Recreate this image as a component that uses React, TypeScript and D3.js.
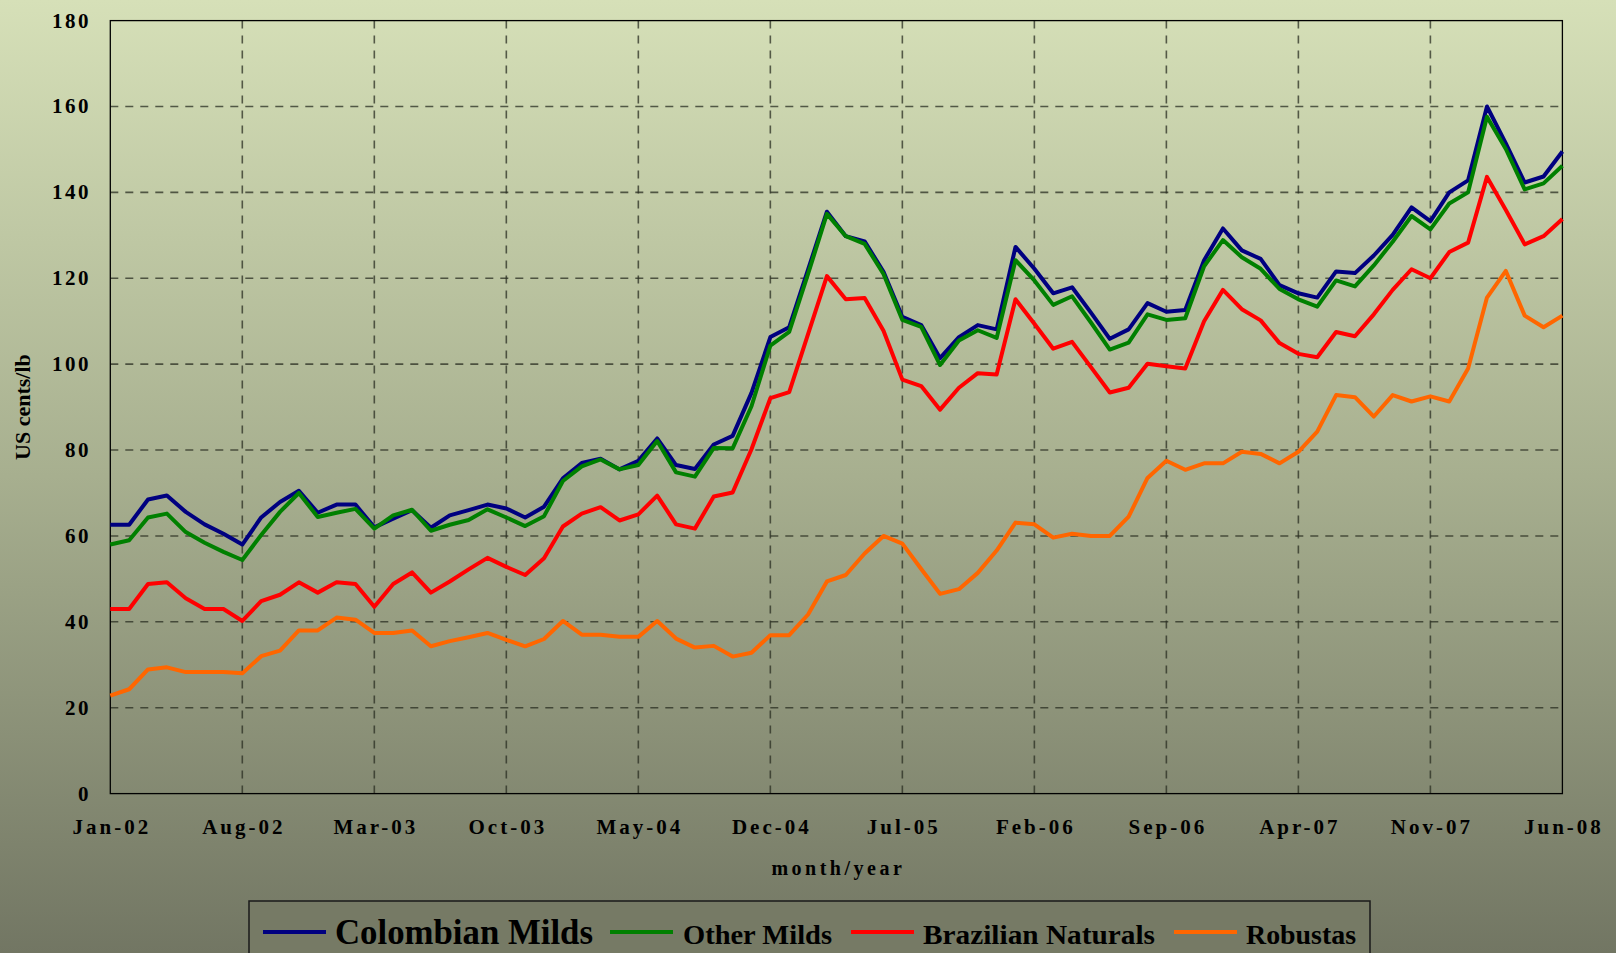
import * as d3 from "d3";

// monthly categories, Jan-02 .. Jun-08
const months = d3.timeMonths(new Date(2002, 0, 1), new Date(2008, 6, 1));
const tickLabels = ["Jan-02", "Aug-02", "Mar-03", "Oct-03", "May-04", "Dec-04", "Jul-05", "Feb-06", "Sep-06", "Apr-07", "Nov-07", "Jun-08"];
const yTicks = [0, 20, 40, 60, 80, 100, 120, 140, 160, 180];

const colombianMilds = [
  62.6, 62.6, 68.5, 69.4, 65.6, 62.7, 60.5, 58.0, 64.3, 67.9, 70.5, 65.4, 67.3, 67.3,
  62.0, 64.0, 66.0, 61.9, 64.8, 66.0, 67.3, 66.4, 64.3, 66.8, 73.4, 77.0, 78.0, 75.5,
  77.5, 82.7, 76.5, 75.6, 81.3, 83.3, 93.3, 106.3, 108.6, 122.0, 135.5, 129.8, 128.6, 121.5,
  111.0, 109.1, 101.4, 106.3, 109.1, 108.1, 127.3, 122.2, 116.5, 117.9, 112.0, 105.9, 108.1, 114.2,
  112.2, 112.6, 124.2, 131.6, 126.5, 124.5, 118.4, 116.5, 115.5, 121.6, 121.2, 125.3, 130.1, 136.5,
  133.3, 140.0, 142.8, 160.0, 151.4, 142.3, 143.7, 149.5,
];
const otherMilds = [
  58.0, 59.0, 64.3, 65.2, 60.9, 58.4, 56.3, 54.4, 60.2, 65.6, 70.0, 64.4, 65.4, 66.3,
  61.7, 64.8, 66.1, 61.2, 62.6, 63.7, 66.2, 64.3, 62.3, 64.6, 72.8, 76.2, 77.8, 75.5,
  76.5, 82.1, 74.8, 73.8, 80.5, 80.4, 90.2, 104.3, 107.5, 121.0, 135.0, 129.8, 128.0, 121.0,
  110.3, 108.7, 99.8, 105.5, 107.9, 106.1, 124.2, 119.5, 113.8, 115.8, 109.7, 103.4, 105.0, 111.6,
  110.3, 110.7, 122.8, 128.9, 124.9, 122.2, 117.5, 115.1, 113.4, 119.5, 118.1, 123.0, 128.5, 134.5,
  131.4, 137.4, 140.0, 157.6, 150.1, 140.7, 142.1, 146.2,
];
const brazilianNaturals = [
  43.0, 43.0, 48.8, 49.2, 45.5, 43.0, 43.0, 40.2, 44.8, 46.3, 49.2, 46.8, 49.2, 48.8,
  43.5, 48.8, 51.5, 46.8, 49.4, 52.2, 54.9, 52.8, 50.9, 54.8, 62.2, 65.2, 66.7, 63.6,
  65.0, 69.4, 62.7, 61.7, 69.2, 70.1, 80.2, 92.1, 93.5, 107.0, 120.5, 115.1, 115.4, 107.8,
  96.4, 94.9, 89.4, 94.5, 97.9, 97.6, 115.1, 109.4, 103.6, 105.2, 99.3, 93.4, 94.5, 100.1,
  99.5, 99.0, 110.0, 117.3, 112.8, 110.2, 104.9, 102.4, 101.6, 107.5, 106.5, 111.6, 117.3, 122.1,
  120.0, 126.1, 128.3, 143.6, 135.9, 127.9, 129.8, 133.8,
];
const robustas = [
  22.8, 24.3, 28.9, 29.4, 28.3, 28.3, 28.3, 28.0, 32.0, 33.3, 38.0, 38.0, 41.0, 40.5,
  37.4, 37.4, 38.0, 34.3, 35.5, 36.4, 37.4, 35.8, 34.3, 36.0, 40.2, 37.0, 37.0, 36.5,
  36.5, 40.2, 36.1, 34.0, 34.4, 31.9, 32.8, 36.9, 36.9, 41.7, 49.4, 50.9, 55.9, 60.0,
  58.2, 52.3, 46.5, 47.6, 51.4, 56.6, 63.1, 62.7, 59.6, 60.5, 60.0, 60.0, 64.5, 73.5,
  77.5, 75.4, 76.9, 76.9, 79.6, 79.1, 76.9, 79.6, 84.3, 92.8, 92.3, 87.8, 92.8, 91.3,
  92.5, 91.3, 99.0, 115.5, 121.7, 111.3, 108.6, 111.3,
];

const series = [
  { name: "Colombian Milds", color: "#000080", values: colombianMilds },
  { name: "Other Milds", color: "#008000", values: otherMilds },
  { name: "Brazilian Naturals", color: "#ff0000", values: brazilianNaturals },
  { name: "Robustas", color: "#ff6600", values: robustas },
];

const W = 1616;
const H = 953;
const plot = { left: 110.3, right: 1562.4, top: 20.6, bottom: 793.6 };
const font = "'Liberation Serif', 'Times New Roman', serif";

// legend layout: sample line start, text start, font size, text width
const legendItems = [
  { x: 263, tx: 335, size: 35, w: 258 },
  { x: 610, tx: 683, size: 28, w: 149 },
  { x: 851, tx: 923, size: 28, w: 232 },
  { x: 1174, tx: 1246, size: 28, w: 110 },
];

export default function App() {
  const x = d3.scaleLinear().domain([0, months.length - 1]).range([plot.left, plot.right]);
  const y = d3.scaleLinear().domain([0, 180]).range([plot.bottom, plot.top]);
  const line = d3
    .line<number>()
    .x((_, i) => x(i))
    .y((d) => y(d));

  const tickIdx = tickLabels.map((_, i) => i * 7);

  return (
    <svg
      width={W}
      height={H}
      style={{ position: "fixed", left: 0, top: 0, display: "block" }}
      fontFamily={font}
      fontWeight="bold"
    >
      <defs>
        <linearGradient id="bg" x1="0" y1="0" x2="0" y2="1">
          <stop offset="0" stopColor="#d6e0b8" />
          <stop offset="0.5" stopColor="#a7af8f" />
          <stop offset="1" stopColor="#727663" />
        </linearGradient>
      </defs>
      <rect width={W} height={H} fill="url(#bg)" />

      {/* grid */}
      <g stroke="#2a2d22" strokeOpacity={0.75} strokeWidth={1.6} strokeDasharray="8,7">
        {yTicks.slice(1, -1).map((t) => (
          <line key={t} x1={plot.left} x2={plot.right} y1={y(t)} y2={y(t)} />
        ))}
        {tickIdx.slice(1, -1).map((i) => (
          <line key={i} x1={x(i)} x2={x(i)} y1={plot.top} y2={plot.bottom} />
        ))}
      </g>
      <rect
        x={plot.left}
        y={plot.top}
        width={plot.right - plot.left}
        height={plot.bottom - plot.top}
        fill="none"
        stroke="#000"
        strokeWidth={1.3}
      />

      {/* series */}
      {series.map((s) => (
        <path
          key={s.name}
          d={line(s.values) ?? ""}
          fill="none"
          stroke={s.color}
          strokeWidth={4}
          strokeLinejoin="round"
        />
      ))}

      {/* y axis */}
      {yTicks.map((t) => (
        <text key={t} x={91} y={y(t) + 7} textAnchor="end" fontSize={21} letterSpacing={2.5} fill="#000">
          {t}
        </text>
      ))}
      <text
        transform={`translate(30,${(plot.top + plot.bottom) / 2}) rotate(-90)`}
        textAnchor="middle"
        fontSize={22}
        fill="#000"
      >
        US cents/lb
      </text>

      {/* x axis */}
      {tickIdx.map((i, k) => (
        <text key={i} x={x(i) + 1.5} y={834} textAnchor="middle" fontSize={21} letterSpacing={3} fill="#000">
          {tickLabels[k]}
        </text>
      ))}
      <text x={(plot.left + plot.right) / 2 + 2} y={875} textAnchor="middle" fontSize={20} letterSpacing={3.5} fill="#000">
        month/year
      </text>

      {/* legend */}
      <rect x={249} y={901} width={1121} height={70} fill="#767a65" stroke="#1a1a1a" strokeWidth={1.5} />
      {series.map((s, i) => {
        const it = legendItems[i];
        return (
          <g key={s.name}>
            <line x1={it.x} x2={it.x + 63} y1={932} y2={932} stroke={s.color} strokeWidth={4} />
            <text x={it.tx} y={944} fontSize={it.size} textLength={it.w} lengthAdjust="spacingAndGlyphs" fill="#000">
              {s.name}
            </text>
          </g>
        );
      })}
    </svg>
  );
}
